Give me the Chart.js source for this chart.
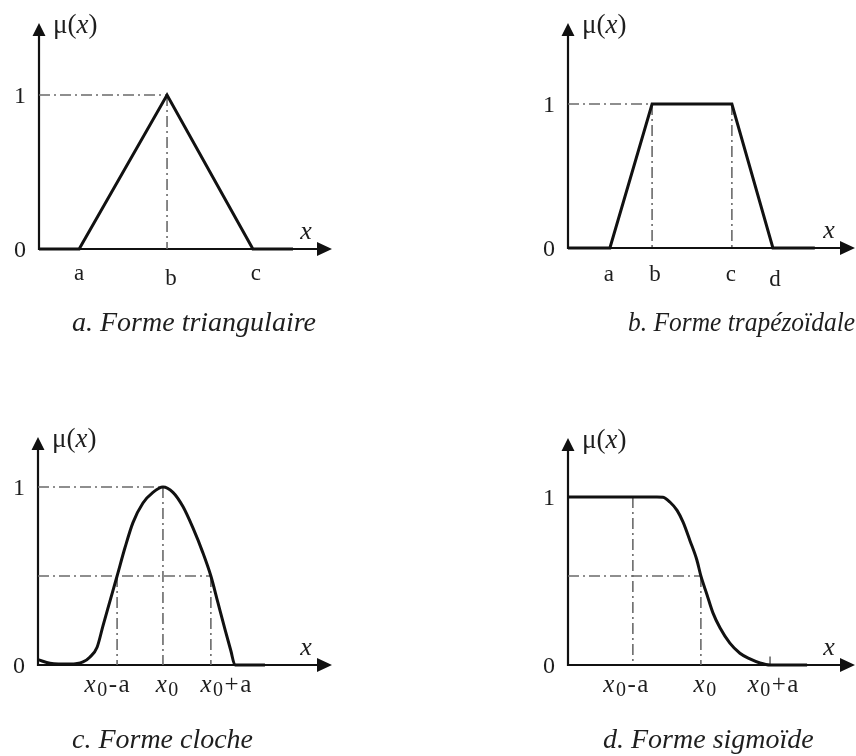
<!DOCTYPE html>
<html>
<head>
<meta charset="utf-8">
<script src="https://cdn.jsdelivr.net/npm/chart.js@4.4.1/dist/chart.umd.min.js"></script>
<style>
  body { margin: 0; background: #fff; }
  #sheet { position: relative; width: 856px; height: 756px; overflow: hidden; background: #fff; }
  #sheet canvas { position: absolute; }
</style>
</head>
<body>
<div id="sheet">
  <canvas id="triChart" width="428" height="378" style="left:0;top:0"></canvas>
  <canvas id="trapChart" width="428" height="378" style="left:428px;top:0"></canvas>
  <canvas id="bellChart" width="428" height="378" style="left:0;top:378px"></canvas>
  <canvas id="sigChart" width="428" height="378" style="left:428px;top:378px"></canvas>
</div>
<script>
// --- membership functions (x in axis units, 0..10) ---

// a. triangle
const triX = [0, 1.37, 4.37, 7.30, 8.67];
const triY = [0, 0, 1, 0, 0];
const triTicks = [1.37, 4.37, 7.30];
const triTickText = ['a', 'b', 'c'];

// b. trapezoid
const trapX = [0, 1.46, 2.93, 5.71, 7.14, 8.60];
const trapY = [0, 0, 1, 1, 0, 0];
const trapTicks = [1.46, 2.93, 5.71, 7.14];
const trapTickText = ['a', 'b', 'c', 'd'];

// c. bell
const bellX = [0, 0.41, 1.09, 1.53, 1.77, 2.01, 2.21, 2.45, 2.69, 2.96, 3.23, 3.57, 3.91, 4.25,
               4.59, 4.93, 5.27, 5.61, 5.88, 6.12, 6.36, 6.56, 6.70, 7.72];
const bellY = [0.03, 0.01, 0.005, 0.017, 0.045, 0.10, 0.22, 0.36, 0.5, 0.66, 0.80, 0.91, 0.97, 1,
               0.97, 0.89, 0.77, 0.63, 0.5, 0.35, 0.20, 0.08, 0, 0];
const bellTicks = [2.69, 4.25, 5.88];
const bellTickText = ['x0-a', 'x0', 'x0+a'];
const bellHalf = 0.5;

// d. sigmoid
const sigX = [0, 3.10, 3.31, 3.55, 3.80, 4.01, 4.25, 4.49, 4.63, 4.84, 5.05, 5.30, 5.64, 5.99,
              6.34, 6.69, 7.04, 8.33];
const sigY = [1, 1, 0.998, 0.97, 0.92, 0.85, 0.74, 0.625, 0.53, 0.42, 0.31, 0.22, 0.13, 0.07,
              0.036, 0.012, 0, 0];
const sigTicks = [2.26, 4.63, 7.04];
const sigTickText = ['x0-a', 'x0', 'x0+a'];
const sigHalf = 0.53;

const ink = '#111';
const textInk = '#1e1e1e';
const guideInk = '#6a6a6a';
const serif = '"Liberation Serif", "Times New Roman", serif';

const pts = (xs, ys) => xs.map((x, i) => ({ x: x, y: ys[i] }));
const seg = (x1, y1, x2, y2) => [{ x: x1, y: y1 }, { x: x2, y: y2 }];

function curve(data, smooth) {
    return {
        data: data, borderColor: ink, borderWidth: 3, pointRadius: 0, order: 0, clip: false,
        tension: 0, cubicInterpolationMode: smooth ? 'monotone' : 'default'
    };
}

function guide(data) {
    return {
        data: data, borderColor: guideInk, borderWidth: 1.6, borderDash: [11, 4, 2, 4],
        pointRadius: 0, tension: 0, order: 1, clip: false
    };
}

// "x0-a" style labels: italic x, lowered upright 0, rest upright
function mathParts(text) {
    if (text.startsWith('x0')) {
        const parts = [
            { t: 'x', f: `italic 25px ${serif}`, dy: 0, gap: 1.5 },
            { t: '0', f: `20px ${serif}`, dy: 4, gap: 1.5 }
        ];
        if (text.length > 2) parts.push({ t: text.slice(2, 3), f: `25px ${serif}`, dy: 0, gap: 1.5 },
                                        { t: text.slice(3), f: `25px ${serif}`, dy: 0, gap: 0 });
        return parts;
    }
    return [{ t: text, f: `23px ${serif}`, dy: 0, gap: 0 }];
}

function drawParts(ctx, parts, x, base, align) {
    let w = 0;
    parts.forEach((p, i) => {
        ctx.font = p.f;
        p.w = ctx.measureText(p.t).width + (i < parts.length - 1 ? (p.gap || 0) : 0);
        w += p.w;
    });
    let cx = align === 'center' ? x - w / 2 : x;
    ctx.textAlign = 'left';
    ctx.textBaseline = 'alphabetic';
    parts.forEach(p => { ctx.font = p.f; ctx.fillText(p.t, cx, base + p.dy); cx += p.w; });
}

// axes with arrowheads + all lettering
const figurePlugin = {
    id: 'figure',
    beforeDatasetsDraw(chart) {
        const ctx = chart.ctx, xs = chart.scales.x, ys = chart.scales.y;
        const left = xs.getPixelForValue(0), bottom = ys.getPixelForValue(0);
        const tipX = xs.getPixelForValue(xs.max), tipY = ys.getPixelForValue(ys.max);
        ctx.save();
        ctx.strokeStyle = ink;
        ctx.fillStyle = ink;
        ctx.lineWidth = 2.2;
        ctx.beginPath();
        ctx.moveTo(left, bottom + 1);
        ctx.lineTo(left, tipY + 10);
        ctx.moveTo(left - 1, bottom);
        ctx.lineTo(tipX - 10, bottom);
        ctx.stroke();
        ctx.beginPath();
        ctx.moveTo(left, tipY);
        ctx.lineTo(left - 6.5, tipY + 13);
        ctx.lineTo(left + 6.5, tipY + 13);
        ctx.closePath();
        ctx.moveTo(tipX, bottom);
        ctx.lineTo(tipX - 15, bottom - 7);
        ctx.lineTo(tipX - 15, bottom + 7);
        ctx.closePath();
        ctx.fill();
        ctx.restore();
    },
    afterDatasetsDraw(chart, args, o) {
        const ctx = chart.ctx, xs = chart.scales.x, ys = chart.scales.y;
        const left = xs.getPixelForValue(0), bottom = ys.getPixelForValue(0);
        const tipX = xs.getPixelForValue(xs.max), tipY = ys.getPixelForValue(ys.max);
        ctx.save();
        ctx.fillStyle = textInk;

        // y ticks 0 and 1
        ctx.font = `24px ${serif}`;
        ctx.textAlign = 'right';
        ctx.textBaseline = 'alphabetic';
        ctx.fillText('0', left - 13, bottom + 8);
        ctx.fillText('1', left - 13, ys.getPixelForValue(1) + 8);

        // axis names
        drawParts(ctx, [
            { t: 'μ(', f: `27px ${serif}`, dy: 0 },
            { t: 'x', f: `italic 27px ${serif}`, dy: 0 },
            { t: ')', f: `27px ${serif}`, dy: 0 }
        ], left + 14, tipY + 10, 'left');
        drawParts(ctx, [{ t: 'x', f: `italic 26px ${serif}`, dy: 0 }], tipX - 26, bottom - 10, 'center');

        // x tick labels
        o.ticks.forEach((v, i) => {
            const px = xs.getPixelForValue(v) + (o.shift[i] || 0);
            drawParts(ctx, mathParts(o.tickText[i]), px, bottom + o.tickGap + (o.drop[i] || 0), 'center');
        });

        // caption
        ctx.font = `italic 28px ${serif}`;
        ctx.textAlign = 'left';
        ctx.fillText(o.caption, o.captionX, o.captionY, o.captionW);
        ctx.restore();
    }
};

function makeChart(id, datasets, yMax, padding, fig) {
    return new Chart(document.getElementById(id), {
        type: 'line',
        data: { datasets: datasets },
        options: {
            responsive: false,
            animation: false,
            events: [],
            layout: { padding: padding },
            scales: {
                x: { type: 'linear', min: 0, max: 10, display: false },
                y: { type: 'linear', min: 0, max: yMax, display: false }
            },
            plugins: { legend: { display: false }, tooltip: { enabled: false }, figure: fig }
        },
        plugins: [figurePlugin]
    });
}

const tb = triTicks[1];
makeChart('triChart', [
    curve(pts(triX, triY), false),
    guide(seg(0, 1, tb, 1)),
    guide(seg(tb, 1, tb, 0))
], 1.4675, { left: 39, top: 23, right: 96, bottom: 129 }, {
    ticks: triTicks, tickText: triTickText, shift: [0, 4, 3], drop: [0, 5, 0], tickGap: 31,
    caption: 'a. Forme triangulaire', captionX: 72, captionY: 331, captionW: 248
});

const [, pb, pc] = trapTicks;
makeChart('trapChart', [
    curve(pts(trapX, trapY), false),
    guide(seg(0, 1, pb, 1)),
    guide(seg(pb, 1, pb, 0)),
    guide(seg(pc, 1, pc, 0))
], 1.5625, { left: 140, top: 23, right: 1, bottom: 130 }, {
    ticks: trapTicks, tickText: trapTickText, shift: [-1, 3, -1, 2], drop: [0, 0, 0, 5], tickGap: 33,
    caption: 'b. Forme trapézoïdale', captionX: 200, captionY: 331, captionW: 227
});

const [bl, bm, br] = bellTicks;
makeChart('bellChart', [
    curve(pts(bellX, bellY), true),
    guide(seg(0, 1, bm, 1)),
    guide(seg(0, bellHalf, br, bellHalf)),
    guide(seg(bm, 1, bm, 0)),
    guide(seg(bl, bellHalf, bl, 0)),
    guide(seg(br, bellHalf, br, 0))
], 1.281, { left: 38, top: 59, right: 96, bottom: 91 }, {
    ticks: bellTicks, tickText: bellTickText, shift: [-10, 4, 15], drop: [], tickGap: 27,
    caption: 'c. Forme cloche', captionX: 72, captionY: 370, captionW: 181
});

const [sl, sm, sr] = sigTicks;
makeChart('sigChart', [
    curve(pts(sigX, sigY), true),
    guide(seg(0, sigHalf, sm, sigHalf)),
    guide(seg(sl, 1, sl, 0)),
    guide(seg(sm, sigHalf, sm, 0)),
    guide(seg(sr, 0.05, sr, 0))
], 1.351, { left: 140, top: 60, right: 1, bottom: 91 }, {
    ticks: sigTicks, tickText: sigTickText, shift: [-7, 4, 3], drop: [], tickGap: 27,
    caption: 'd. Forme sigmoïde', captionX: 175, captionY: 370, captionW: 214
});
</script>
</body>
</html>
